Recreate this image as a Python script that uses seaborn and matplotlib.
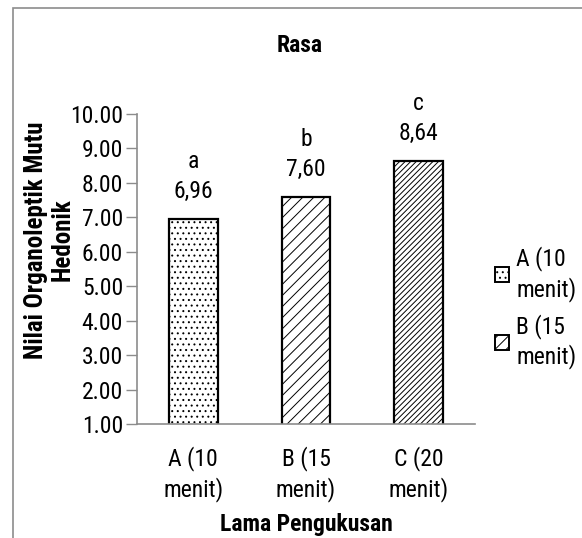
import numpy as np
import pandas as pd
import seaborn as sns
import matplotlib.pyplot as plt
from matplotlib import font_manager
from matplotlib.patches import Patch, Rectangle

# data
categories = ["A (10\nmenit)", "B (15\nmenit)", "C (20\nmenit)"]
values = [6.96, 7.60, 8.64]
value_labels = ["6,96", "7,60", "8,64"]
letters = ["a", "b", "c"]
hatches = ["...", "///", "//////"]
legend_labels = ["A (10\nmenit)", "B (15\nmenit)"]
yticks = [1, 2, 3, 4, 5, 6, 7, 8, 9, 10]

# the chart uses a narrow Arial-like face; take the first one installed
available = {f.name for f in font_manager.fontManager.ttflist}
narrow = [n for n in ['Liberation Sans Narrow', 'Arial Narrow', 'Arimo Narrow',
                      'Roboto Condensed', 'PT Sans Narrow', 'Archivo Narrow',
                      'Pragati Narrow'] if n in available]
family = narrow[0] if narrow else 'Liberation Sans'
fs = 17 if narrow else 15

sns.set_style("white")
plt.rcParams['font.family'] = [family, 'DejaVu Sans']
plt.rcParams['text.color'] = 'black'
plt.rcParams['xtick.color'] = 'black'
plt.rcParams['ytick.color'] = 'black'
plt.rcParams['hatch.linewidth'] = 0.7
plt.rcParams['hatch.color'] = 'black'

W, H = 582, 538
ls = 1.3
fig = plt.figure(figsize=(W / 100, H / 100), dpi=100)
ax = fig.add_axes([137 / W, 1 - 424 / H, (475 - 137) / W, (424 - 114) / H])

df = pd.DataFrame({"cat": categories, "val": values})
sns.barplot(data=df, x="cat", y="val", color="white", width=0.43,
            edgecolor="black", linewidth=1.6, ax=ax)

for bar, h in zip(ax.patches, hatches):
    bar.set_hatch(h)

for i, (v, lab, let) in enumerate(zip(values, value_labels, letters)):
    ax.annotate(lab, (i, v), xytext=(0, 27), textcoords='offset pixels',
                ha='center', va='center', fontsize=fs)
    ax.annotate(let, (i, v), xytext=(0, 57), textcoords='offset pixels',
                ha='center', va='center', fontsize=fs)

ax.set_ylim(1, 10)
ax.set_xlim(-0.5, 2.5)
ax.set_yticks(yticks)
ax.set_yticklabels([f"{t:.2f}" for t in yticks], fontsize=fs)
ax.tick_params(axis='y', length=8, width=1, color='#8c8c8c', left=True, pad=2)
ax.tick_params(axis='x', length=0, labelsize=fs, pad=16)
for t in ax.get_xticklabels():
    t.set_linespacing(ls)
ax.set_xlabel("")
ax.set_ylabel("")
for side in ['top', 'right']:
    ax.spines[side].set_visible(False)
for side in ['left', 'bottom']:
    ax.spines[side].set_color('#8c8c8c')
    ax.spines[side].set_linewidth(1.2)

fig.text(300 / W, 1 - 45 / H, "Rasa", ha='center', va='center',
         fontsize=fs, fontweight='bold')
fig.text(306 / W, 1 - 524 / H, "Lama Pengukusan", ha='center', va='center',
         fontsize=fs, fontweight='bold')
fig.text(49 / W, 1 - 240 / H, "Nilai Organoleptik Mutu\nHedonik",
         rotation=90, ha='center', va='center', multialignment='center',
         fontsize=fs + 1, fontweight='bold', linespacing=1.15)

handles = [Patch(facecolor='white', edgecolor='black', hatch=h, linewidth=1.4)
           for h in hatches[:2]]
leg = fig.legend(handles, legend_labels, loc='upper left',
                 bbox_to_anchor=(474 / W, 1 - 225 / H), frameon=False,
                 fontsize=fs, handlelength=0.6, handleheight=0.6,
                 handletextpad=0.3, labelspacing=0.5)
for t in leg.get_texts():
    t.set_linespacing(ls)

# outer chart border (left and top visible)
fig.patches.append(Rectangle((13 / W, -0.05), 1.2, 1 - 8 / H + 0.05,
                             transform=fig.transFigure, fill=False,
                             edgecolor='#8c8c8c', linewidth=1.2))

fig.savefig("out.png", dpi=100)
